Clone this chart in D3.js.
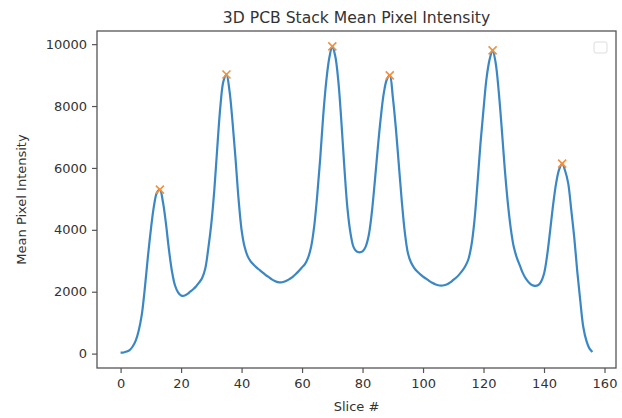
<!DOCTYPE html>
<html>
<head>
<meta charset="utf-8">
<script src="https://cdn.jsdelivr.net/npm/d3@7"></script>
<style>
    body { margin: 0; background: #fff; }
    text { font-family: "DejaVu Sans", sans-serif; fill: #333; }
</style>
</head>
<body>
<div id="chart"></div>
<script>
// mean pixel intensity per slice (slice # = index)
var intensity = [
    30, 35, 65, 115, 230, 420, 750, 1250, 2100, 3100,
    4000, 4750, 5200, 5300, 4900, 4200, 3350, 2650, 2200, 1980,
    1880, 1870, 1920, 2000, 2080, 2180, 2300, 2450, 2750, 3400,
    4200, 5300, 6700, 8000, 8800, 9020, 8500, 7500, 6300, 5000,
    4000, 3450, 3150, 2980, 2870, 2780, 2700, 2620, 2540, 2470,
    2400, 2350, 2310, 2300, 2320, 2360, 2420, 2490, 2580, 2680,
    2790, 2900, 3100, 3450, 4100, 5100, 6300, 7700, 8800, 9550,
    9930, 9600, 8800, 7500, 6000, 4700, 3900, 3450, 3300, 3270,
    3300, 3450, 3800, 4500, 5500, 6600, 7600, 8400, 8850, 8990,
    8300, 7300, 6100, 4900, 3900, 3250, 2950, 2780, 2660, 2570,
    2490, 2420, 2350, 2290, 2240, 2210, 2200, 2210, 2240, 2300,
    2380, 2460, 2560, 2680, 2830, 3050, 3500, 4300, 5500, 6800,
    7900, 8900, 9500, 9800, 9400, 8500, 7300, 6000, 4900, 4050,
    3450, 3100, 2850, 2600, 2420, 2300, 2220, 2190, 2210, 2320,
    2580, 3150, 3950, 4800, 5500, 5950, 6140, 5900, 5500, 4650,
    3750, 2650, 1700, 850, 420, 170, 50
];
var peakSlices = [13, 35, 70, 89, 123, 146];
var xTicks = [0, 20, 40, 60, 80, 100, 120, 140, 160];
var yTicks = [0, 2000, 4000, 6000, 8000, 10000];

var width = 622, height = 418;
var margin = {top: 31, right: 6, bottom: 50, left: 97};
var plotW = width - margin.left - margin.right;
var plotH = height - margin.top - margin.bottom;

var points = intensity.map(function(v, i) { return {slice: i, value: v}; });

var xExt = d3.extent(points, d => d.slice);
var yExt = d3.extent(points, d => d.value);
var xPad = (xExt[1] - xExt[0]) * 0.05;
var yPad = (yExt[1] - yExt[0]) * 0.05;

var x = d3.scaleLinear()
    .domain([xExt[0] - xPad, xExt[1] + xPad])
    .range([0, plotW]);
var y = d3.scaleLinear()
    .domain([yExt[0] - yPad, yExt[1] + yPad])
    .range([plotH, 0]);

var svg = d3.select("#chart")
    .append("svg")
    .attr("width", width)
    .attr("height", height);

var g = svg.append("g")
    .attr("transform", `translate(${margin.left}, ${margin.top})`);

// axes
var xAxis = g.append("g")
    .attr("transform", `translate(0, ${plotH})`)
    .call(d3.axisBottom(x).tickValues(xTicks).tickSize(5).tickPadding(6).tickFormat(d3.format("d")));
var yAxis = g.append("g")
    .call(d3.axisLeft(y).tickValues(yTicks).tickSize(5).tickPadding(5).tickFormat(d3.format("d")));

[xAxis, yAxis].forEach(function(ax) {
    ax.select(".domain").remove();
    ax.selectAll(".tick line").attr("stroke", "#555").attr("stroke-width", 1.2);
    ax.selectAll(".tick text")
        .style("font-family", "DejaVu Sans, sans-serif")
        .style("font-size", "13px")
        .attr("fill", "#333");
});

// frame
g.append("rect")
    .attr("width", plotW)
    .attr("height", plotH)
    .attr("fill", "none")
    .attr("stroke", "#555")
    .attr("stroke-width", 1.3);

// intensity line
var line = d3.line()
    .x(d => x(d.slice))
    .y(d => y(d.value))
    .curve(d3.curveCatmullRom);

g.append("path")
    .datum(points)
    .attr("d", line)
    .attr("fill", "none")
    .attr("stroke", "#3a87c4")
    .attr("stroke-width", 2.2);

// peak markers
var mk = 4;
var peaks = g.append("g").attr("class", "peaks");
peakSlices.forEach(function(s) {
    var px = x(s), py = y(intensity[s]);
    peaks.append("path")
        .attr("d", `M${px - mk},${py - mk}L${px + mk},${py + mk}M${px - mk},${py + mk}L${px + mk},${py - mk}`)
        .attr("stroke", "#f58f3a")
        .attr("stroke-width", 1.6)
        .attr("fill", "none");
});

// empty legend box
g.append("rect")
    .attr("x", plotW - 22)
    .attr("y", 11)
    .attr("width", 13)
    .attr("height", 11)
    .attr("rx", 2)
    .attr("fill", "#fff")
    .attr("stroke", "#ddd")
    .attr("stroke-width", 1);

// titles
svg.append("text")
    .text("3D PCB Stack Mean Pixel Intensity")
    .attr("x", margin.left + plotW / 2)
    .attr("y", 23)
    .style("text-anchor", "middle")
    .style("font-size", "15.6px");

svg.append("text")
    .text("Slice #")
    .attr("x", margin.left + plotW / 2)
    .attr("y", 411)
    .style("text-anchor", "middle")
    .style("font-size", "13px");

svg.append("text")
    .text("Mean Pixel Intensity")
    .attr("transform", `translate(25.5, ${margin.top + plotH / 2}) rotate(-90)`)
    .style("text-anchor", "middle")
    .style("font-size", "13px");
</script>
</body>
</html>
